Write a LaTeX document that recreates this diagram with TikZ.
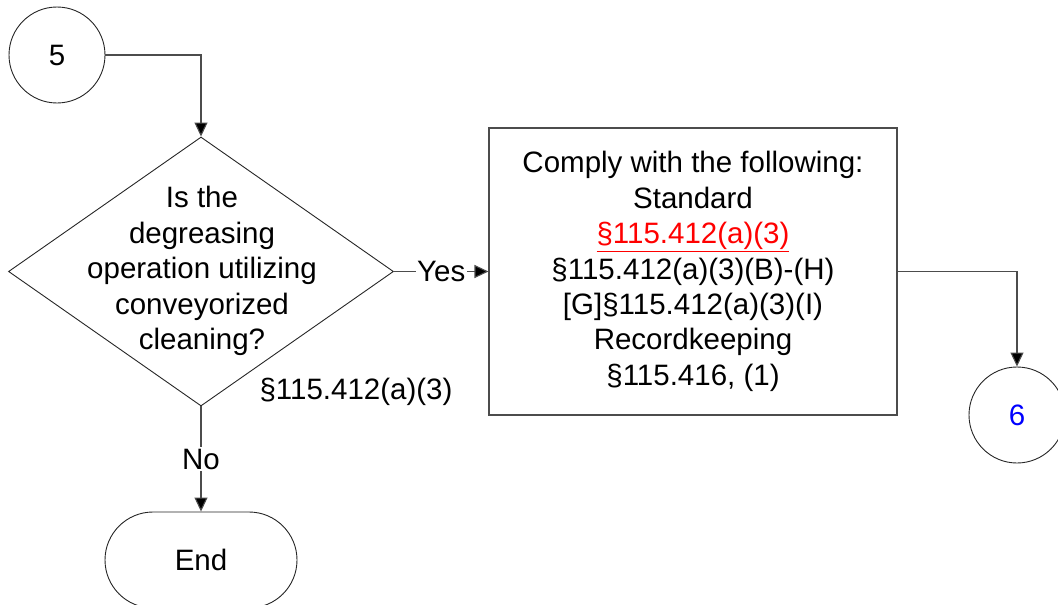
\documentclass[tikz,border=0pt]{standalone}
\usepackage{fontspec}
\setmainfont{Liberation Sans}
\usetikzlibrary{shapes.geometric,shapes.misc,arrows.meta}
\begin{document}
\begin{tikzpicture}[x=1pt,y=-1pt,
  font=\fontsize{29.5}{35.4}\selectfont,
  line width=1pt,
  shapeline/.style={draw=black!85, line width=0.9pt},
  conn/.style={draw=black!70, line width=1.1pt, -{Triangle[length=14pt,width=13pt,fill=black]}},
  lbl/.style={fill=white, inner sep=1.5pt}]
\useasboundingbox (0,0) rectangle (1058,605);
\node[circle, shapeline, minimum size=96pt, inner sep=0pt] (c5) at (57,55) {5};
\node[diamond, shapeline, minimum width=385pt, minimum height=269pt, inner sep=0pt] (d) at (201,271.5) {};
\node[align=center] (dt) at (202,271) {Is the\\degreasing\\operation utilizing\\conveyorized\\cleaning?};
\node[rectangle, draw=black!70, line width=1.1pt, minimum width=408pt, minimum height=287pt, align=center] (b) at (693,271.5)
  {Comply with the following:\\Standard\\{\color{red}\underline{§115.412(a)(3)}}\\§115.412(a)(3)(B)-(H)\\\relax{[G]}§115.412(a)(3)(I)\\Recordkeeping\\§115.416, (1)};
\node[circle, shapeline, minimum size=96pt, inner sep=0pt, text=blue] (c6) at (1017,415) {6};
\node[rounded rectangle, shapeline, minimum width=192pt, minimum height=96pt, inner sep=0pt] (e) at (201,560) {End};
\node (ref) at (356,392) {§115.412(a)(3)};
\draw[conn] (c5.east) -| (d.north);
\draw[conn] (d.east) -- node[lbl] (yes) {Yes} (b.west);
\draw[conn] (d.south) -- node[lbl] (no) {No} (e.north);
\draw[conn] (b.east) -| (c6.north);
\end{tikzpicture}
\end{document}
